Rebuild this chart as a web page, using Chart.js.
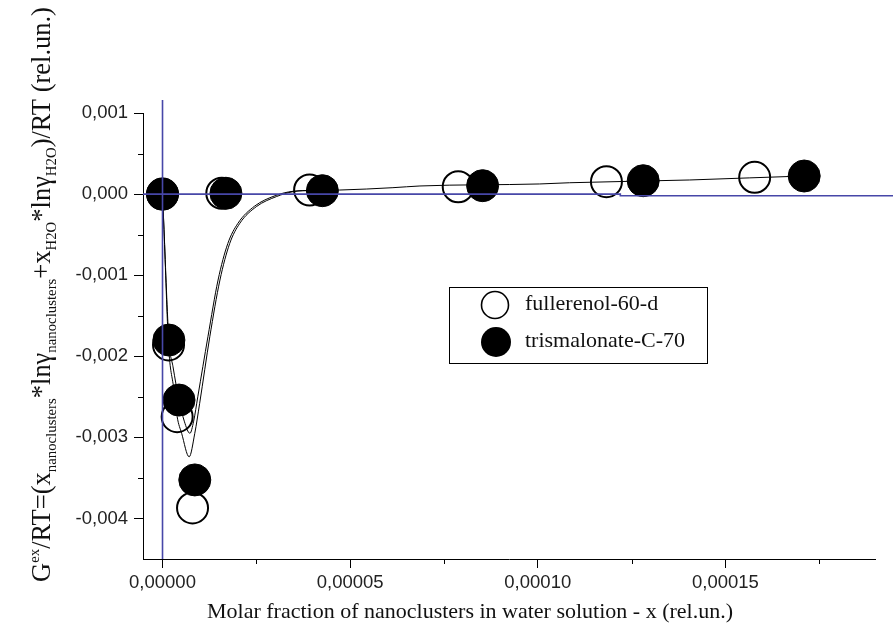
<!DOCTYPE html>
<html>
<head>
<meta charset="utf-8">
<script src="https://cdn.jsdelivr.net/npm/chart.js@4.4.1/dist/chart.umd.min.js"></script>
<style>
html,body{margin:0;padding:0;background:#fff;}
#wrap{width:893px;height:639px;}
</style>
</head>
<body>
<div id="wrap"><canvas id="c" width="893" height="639"></canvas></div>
<script>
// ---------------- data ----------------
const fullerenolX = [0, 0.0000016, 0.0000039, 0.0000080, 0.0000158, 0.0000392, 0.0000788, 0.0001183, 0.0001578];
const fullerenolY = [0, -0.00186, -0.002745, -0.00387, 0.00001, 0.00005, 0.000091, 0.000153, 0.000207];

const trisX = [0, 0.0000017, 0.0000044, 0.0000086, 0.0000169, 0.0000426, 0.0000853, 0.0001281, 0.000171];
const trisY = [0, -0.0018, -0.00254, -0.003525, 0.00001, 0.000042, 0.000104, 0.000165, 0.000223];

// fitted curves
const fitDeepX = [0, 0.0000004, 0.0000016, 0.0000030, 0.0000039, 0.0000051, 0.0000071, 0.0000086, 0.0000099, 0.0000126, 0.0000153, 0.0000179, 0.0000206, 0.000025, 0.0000304, 0.0000348, 0.0000400, 0.0000472, 0.0000614, 0.0000686, 0.0001005, 0.0001085, 0.0001405, 0.0001565, 0.0001709];
const fitDeepY = [0, -0.00044, -0.00186, -0.00240, -0.002745, -0.00295, -0.00324, -0.00295, -0.00258, -0.00176, -0.00106, -0.00061, -0.00036, -0.000155, -0.00003, 0.00003, 0.000045, 0.00005, 0.000079, 0.0001, 0.000125, 0.00014, 0.000174, 0.0002, 0.000223];

const fitShallowX = [0, 0.0000004, 0.0000017, 0.0000028, 0.0000044, 0.0000058, 0.0000073, 0.0000083, 0.0000094, 0.0000121, 0.0000148, 0.0000174, 0.0000201, 0.0000245, 0.00003, 0.0000348, 0.00004];
const fitShallowY = [0, -0.00044, -0.0018, -0.00213, -0.00254, -0.0028, -0.00295, -0.0028, -0.0025, -0.00176, -0.00106, -0.00061, -0.00036, -0.00015, -0.00002, 0.000035, 0.000045];

// blue reference lines
const vLineX = [0, 0];
const vLineY = [-0.0045, 0.00116];
const hLineX = [-0.0000052, 0.000122, 0.000122, 0.000195];
const hLineY = [0, 0, -0.00002, -0.00002];

// axes
const xMin = -0.0000052, xMax = 0.00019;
const yMin = -0.0045, yMax = 0.001;
const xTicks = [0, 0.00005, 0.0001, 0.00015];
const xTickLabels = ['0,00000', '0,00005', '0,00010', '0,00015'];
const xMinorTicks = [0.000025, 0.000075, 0.000125, 0.000175];
const yTicks = [-0.004, -0.003, -0.002, -0.001, 0, 0.001];
const yTickLabels = ['-0,004', '-0,003', '-0,002', '-0,001', '0,000', '0,001'];
const yMinorTicks = [-0.0035, -0.0025, -0.0015, -0.0005, 0.0005];

const seriesNames = ['fullerenol-60-d', 'trismalonate-C-70'];
const xTitle = 'Molar fraction of nanoclusters in water solution - x (rel.un.)';
const yTitleParts = [
  ['G', 'n'], ['ex', 'sup'], ['/RT=(x', 'n'], ['nanoclusters', 'sub'], ['*ln\u03b3', 'n'],
  ['nanoclusters', 'sub'], ['+x', 'n'], ['H2O', 'sub'], ['*ln\u03b3', 'n'], ['H2O', 'sub'],
  [')/RT (rel.un.)', 'n']
];

// ---------------- helpers ----------------
const zip = (xs, ys) => xs.map((x, i) => ({x: x, y: ys[i]}));
const BLUE = '#4747a8';
const SERIF = '"Liberation Serif", "Times New Roman", serif';
const SANS = '"Liberation Sans", Arial, sans-serif';

const whiteBg = {
  id: 'whiteBg',
  beforeDraw(chart) {
    const ctx = chart.ctx;
    ctx.save(); ctx.fillStyle = '#fff'; ctx.fillRect(0, 0, chart.width, chart.height); ctx.restore();
  }
};

const minorTicks = {
  id: 'minorTicks',
  afterDraw(chart) {
    const ctx = chart.ctx, xs = chart.scales.x, ys = chart.scales.y;
    ctx.save();
    ctx.strokeStyle = '#000'; ctx.lineWidth = 1;
    ctx.beginPath();
    xMinorTicks.forEach(v => {
      const px = Math.round(xs.getPixelForValue(v)) + 0.5;
      ctx.moveTo(px, ys.bottom); ctx.lineTo(px, ys.bottom + 5);
    });
    yMinorTicks.forEach(v => {
      const py = Math.round(ys.getPixelForValue(v)) + 0.5;
      ctx.moveTo(xs.left - 5, py); ctx.lineTo(xs.left, py);
    });
    ctx.stroke();
    ctx.restore();
  }
};

const titlesPlugin = {
  id: 'titles',
  afterDraw(chart) {
    const ctx = chart.ctx;
    // x title
    ctx.save();
    ctx.fillStyle = '#111';
    ctx.font = '22px ' + SERIF;
    ctx.textAlign = 'center';
    ctx.textBaseline = 'middle';
    ctx.fillText(xTitle, 470, 612);
    ctx.restore();

    // y title with sub/superscripts, fitted to the reference length
    const targetLen = 575;
    ctx.save();
    ctx.fillStyle = '#111';
    ctx.textBaseline = 'alphabetic';
    ctx.textAlign = 'left';
    const measure = (main) => {
      let t = 0;
      yTitleParts.forEach(p => {
        ctx.font = (p[1] === 'n' ? main : main * 0.56) + 'px ' + SERIF;
        t += ctx.measureText(p[0]).width;
      });
      return t;
    };
    const main = 24 * targetLen / measure(24);
    const small = main * 0.56;
    const total = measure(main);
    ctx.translate(50, 294.5);
    ctx.rotate(-Math.PI / 2);
    let x = -total / 2;
    yTitleParts.forEach(p => {
      ctx.font = (p[1] === 'n' ? main : small) + 'px ' + SERIF;
      const dy = p[1] === 'sub' ? main * 0.22 : (p[1] === 'sup' ? -main * 0.4 : 0);
      ctx.fillText(p[0], x, dy);
      x += ctx.measureText(p[0]).width;
    });
    ctx.restore();
  }
};

const legendPlugin = {
  id: 'boxLegend',
  afterDraw(chart) {
    const ctx = chart.ctx;
    const box = {l: 449.5, t: 287.5, r: 707.5, b: 363.5};
    ctx.save();
    ctx.fillStyle = '#fff';
    ctx.fillRect(box.l, box.t, box.r - box.l, box.b - box.t);
    ctx.strokeStyle = '#000'; ctx.lineWidth = 1;
    ctx.strokeRect(box.l, box.t, box.r - box.l, box.b - box.t);
    const rows = [
      {name: seriesNames[0], cy: 305, filled: false},
      {name: seriesNames[1], cy: 342, filled: true}
    ];
    rows.forEach(r => {
      ctx.beginPath();
      if (r.filled) {
        ctx.arc(496, r.cy, 15, 0, Math.PI * 2);
        ctx.fillStyle = '#000'; ctx.fill();
      } else {
        ctx.arc(495, r.cy, 13.5, 0, Math.PI * 2);
        ctx.fillStyle = '#fff'; ctx.fill();
        ctx.lineWidth = 1.6; ctx.strokeStyle = '#000'; ctx.stroke();
      }
      ctx.fillStyle = '#111';
      ctx.font = '22px ' + SERIF;
      ctx.textBaseline = 'middle';
      ctx.textAlign = 'left';
      ctx.fillText(r.name, 525, r.cy - 1);
    });
    ctx.restore();
  }
};

// ---------------- chart ----------------
new Chart(document.getElementById('c'), {
  type: 'scatter',
  data: {
    datasets: [
      {label: 'vline', data: zip(vLineX, vLineY), showLine: true, borderColor: BLUE, borderWidth: 1.6,
       pointRadius: 0, clip: false, order: 0},
      {label: 'hline', data: zip(hLineX, hLineY), showLine: true, borderColor: BLUE, borderWidth: 1.6,
       pointRadius: 0, clip: false, order: 0},
      {label: 'fit deep', data: zip(fitDeepX, fitDeepY), showLine: true, borderColor: '#000', borderWidth: 1,
       pointRadius: 0, cubicInterpolationMode: 'monotone', order: 1},
      {label: 'fit shallow', data: zip(fitShallowX, fitShallowY), showLine: true, borderColor: '#000', borderWidth: 1,
       pointRadius: 0, cubicInterpolationMode: 'monotone', order: 1},
      {label: seriesNames[1], data: zip(trisX, trisY), showLine: false, pointRadius: 16,
       pointBackgroundColor: '#000', pointBorderColor: '#000', pointBorderWidth: 1, order: 2},
      {label: seriesNames[0], data: zip(fullerenolX, fullerenolY), showLine: false, pointRadius: 15.5,
       pointBackgroundColor: '#fff', pointBorderColor: '#000', pointBorderWidth: 2, order: 3}
    ]
  },
  options: {
    responsive: false,
    animation: false,
    events: [],
    layout: {padding: {top: 113, right: 16, left: 0, bottom: 0}},
    plugins: {legend: {display: false}, tooltip: {enabled: false}, title: {display: false}},
    scales: {
      x: {
        type: 'linear', min: xMin, max: xMax,
        afterBuildTicks: s => { s.ticks = xTicks.map(v => ({value: v})); },
        afterFit: s => { s.height = 80; },
        ticks: {
          callback: v => xTickLabels[xTicks.indexOf(v)],
          font: {family: SANS, size: 18.5}, color: '#222', padding: 4, maxRotation: 0, autoSkip: false
        },
        grid: {drawOnChartArea: false, drawTicks: true, tickLength: 9, tickColor: '#000', tickWidth: 1},
        border: {display: true, color: '#000', width: 1},
        title: {display: false}
      },
      y: {
        type: 'linear', min: yMin, max: yMax,
        afterBuildTicks: s => { s.ticks = yTicks.map(v => ({value: v})); },
        afterFit: s => { s.width = 143; },
        ticks: {
          callback: v => yTickLabels[yTicks.indexOf(v)],
          font: {family: SANS, size: 18.5}, color: '#222', padding: 6, autoSkip: false
        },
        grid: {drawOnChartArea: false, drawTicks: true, tickLength: 9, tickColor: '#000', tickWidth: 1},
        border: {display: true, color: '#000', width: 1}
      }
    }
  },
  plugins: [whiteBg, minorTicks, titlesPlugin, legendPlugin]
});
</script>
</body>
</html>
